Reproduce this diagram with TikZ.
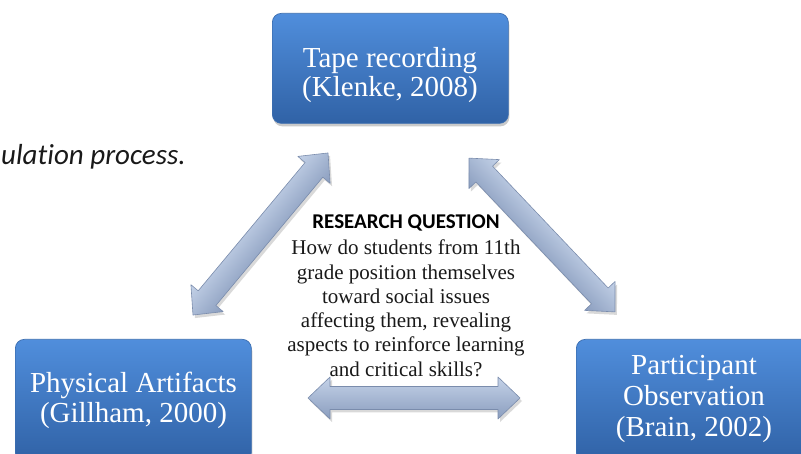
\documentclass[tikz,border=0pt]{standalone}
\usepackage{fontspec}
\setmainfont{Liberation Serif}
\newfontfamily\calibrifont{Carlito}
\newfontfamily\calibriitfont[Ligatures=NoCommon]{Carlito}
\usetikzlibrary{shadows,calc}
\definecolor{boxtop}{RGB}{80,142,220}
\definecolor{boxbot}{RGB}{48,98,166}
\definecolor{boxedge}{RGB}{60,110,176}
\definecolor{arrtop}{RGB}{196,210,232}
\definecolor{arrmid}{RGB}{240,244,250}
\definecolor{arrbot}{RGB}{138,157,190}
\definecolor{arredge}{RGB}{122,140,172}
\newcommand\dblblockarrow[1]{%
  (-#1/2,0) -- (-#1/2+22,-21) -- (-#1/2+22,-11.5) -- (#1/2-22,-11.5) -- (#1/2-22,-21) --
  (#1/2,0) -- (#1/2-22,21) -- (#1/2-22,11.5) -- (-#1/2+22,11.5) -- (-#1/2+22,21) -- cycle}
\begin{document}
\begin{tikzpicture}[x=1pt,y=-1pt,
  bluebox/.style={draw=boxedge, line width=0.7pt, rounded corners=9pt,
    top color=boxtop, bottom color=boxbot, minimum width=236pt, anchor=north west,
    inner sep=0pt,
    drop shadow={shadow xshift=1pt, shadow yshift=-3pt, opacity=0.35, fill=black!60}},
  boxline/.style={text=white, font=\fontsize{29}{30}\selectfont, anchor=base, inner sep=0pt},
  qline/.style={text=black!90, font=\fontsize{21}{24}\selectfont, anchor=base, inner sep=0pt},
  qhead/.style={text=black, font=\calibrifont\bfseries\fontsize{21}{24}\selectfont, anchor=base, inner sep=0pt},
  arrowfill/.style={draw=arredge, line width=0.6pt, line join=round,
    top color=arrtop, middle color=arrmid, bottom color=arrbot},
  arrowshadow/.style={fill=black, opacity=0.15, draw=none}
]
\useasboundingbox (0,0) rectangle (801,454);

% caption fragment
\node[anchor=base west, inner sep=0pt, text=black!90,
  font=\calibriitfont\itshape\fontsize{29}{31}\selectfont] (caption) at (1,165) {ulation process.};

% boxes
\node[bluebox, minimum height=110pt] (tape) at (272,13) {};
\node[bluebox, minimum height=122pt] (phys) at (15,339) {};
\node[bluebox, minimum height=122pt] (part) at (576,339) {};

% arrow end points
\coordinate (la) at (193,315); \coordinate (lb) at (328,153);
\coordinate (ra) at (469,158); \coordinate (rb) at (615,312);
\coordinate (ba) at (308,398); \coordinate (bb) at (520,398);

% shadows of arrows
\begin{scope}[transform canvas={shift={(262.5,237)}, rotate=50.2}]
  \path[arrowshadow] \dblblockarrow{211};
\end{scope}
\begin{scope}[transform canvas={shift={(544,238)}, rotate=-46.5}]
  \path[arrowshadow] \dblblockarrow{212};
\end{scope}
\begin{scope}[transform canvas={shift={(416,401)}}]
  \path[arrowshadow] \dblblockarrow{212};
\end{scope}

% arrows
\begin{scope}[transform canvas={shift={(260.5,234)}, rotate=50.2}]
  \path[arrowfill] \dblblockarrow{211};
\end{scope}
\begin{scope}[transform canvas={shift={(542,235)}, rotate=-46.5}]
  \path[arrowfill] \dblblockarrow{212};
\end{scope}
\begin{scope}[transform canvas={shift={(414,398)}}]
  \path[arrowfill] \dblblockarrow{212};
\end{scope}

% box texts
\node[boxline] (t1) at (390,68) {Tape recording};
\node[boxline] (t2) at (390,97) {(Klenke, 2008)};
\node[boxline] (p1) at (133.5,392) {Physical Artifacts};
\node[boxline] (p2) at (133.5,422) {(Gillham, 2000)};
\node[boxline] (o1) at (694,375) {Participant};
\node[boxline] (o2) at (694,406) {Observation};
\node[boxline] (o3) at (694,436) {(Brain, 2002)};

% research question
\node[qhead] (rq) at (406,229) {RESEARCH QUESTION};
\node[qline] (q1) at (406,255) {How do students from 11th};
\node[qline] (q2) at (406,279.5) {grade position themselves};
\node[qline] (q3) at (406,303.5) {toward social issues};
\node[qline] (q4) at (406,328) {affecting them, revealing};
\node[qline] (q5) at (406,352) {aspects to reinforce learning};
\node[qline] (q6) at (406,377) {and critical skills?};
\end{tikzpicture}
\end{document}
